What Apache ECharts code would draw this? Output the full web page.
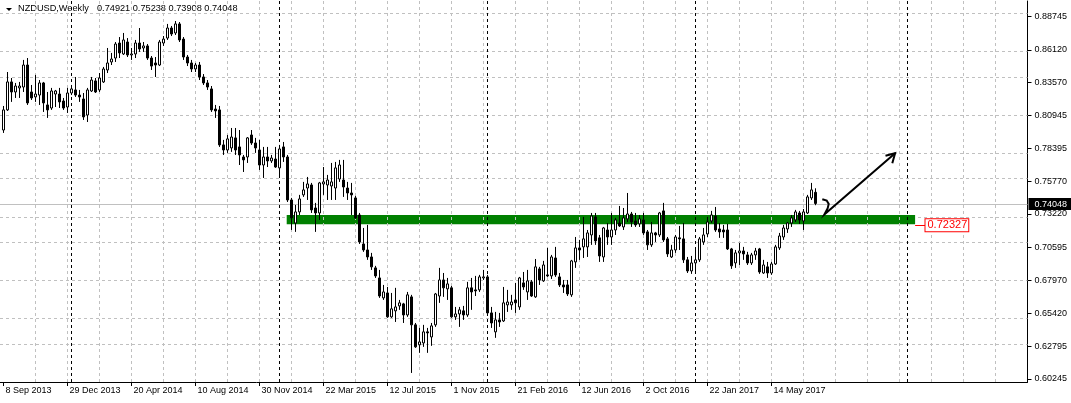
<!DOCTYPE html>
<html><head><meta charset="utf-8">
<script src="https://cdn.jsdelivr.net/npm/echarts@6/dist/echarts.min.js"></script>
<style>html,body{margin:0;padding:0;background:#fff;overflow:hidden}#c{width:1071px;height:403px}</style>
</head><body><div id="c"></div>
<script>
// ---------------- data ----------------
const symbolName = 'NZDUSD,Weekly';
const startDateUTC = Date.UTC(2013, 8, 8); // first weekly bar: 8 Sep 2013
const opens = [0.7982,0.8140,0.8360,0.8281,0.8313,0.8320,0.8493,0.8281,0.8242,0.8257,0.8352,0.8179,0.8155,0.8265,0.8265,0.8210,0.8163,0.8273,0.8297,0.8257,0.8226,0.8100,0.8289,0.8368,0.8297,0.8360,0.8454,0.8517,0.8548,0.8666,0.8580,0.8674,0.8572,0.8580,0.8666,0.8627,0.8643,0.8548,0.8509,0.8493,0.8666,0.8705,0.8784,0.8745,0.8816,0.8697,0.8556,0.8509,0.8462,0.8493,0.8399,0.8352,0.8305,0.8147,0.8140,0.7865,0.7825,0.7841,0.7920,0.7849,0.7770,0.7770,0.7943,0.7880,0.7825,0.7707,0.7770,0.7739,0.7754,0.7684,0.7849,0.7770,0.7432,0.7251,0.7338,0.7472,0.7526,0.7550,0.7369,0.7330,0.7558,0.7550,0.7542,0.7526,0.7597,0.7589,0.7526,0.7487,0.7448,0.7314,0.7086,0.7039,0.6984,0.6898,0.6819,0.6662,0.6701,0.6513,0.6560,0.6599,0.6615,0.6528,0.6670,0.6450,0.6293,0.6308,0.6395,0.6355,0.6450,0.6677,0.6803,0.6733,0.6741,0.6513,0.6536,0.6560,0.6528,0.6741,0.6725,0.6725,0.6819,0.6827,0.6544,0.6395,0.6489,0.6481,0.6607,0.6607,0.6646,0.6591,0.6780,0.6709,0.6788,0.6670,0.6890,0.6796,0.6843,0.6835,0.6976,0.6827,0.6764,0.6764,0.6686,0.6945,0.7055,0.7063,0.7063,0.7157,0.7299,0.7134,0.6984,0.7196,0.7141,0.7196,0.7251,0.7220,0.7283,0.7322,0.7267,0.7244,0.7275,0.7181,0.7079,0.7173,0.7157,0.7346,0.7126,0.6984,0.7039,0.7134,0.7126,0.6961,0.6874,0.6937,0.6961,0.7102,0.7165,0.7267,0.7306,0.7204,0.7196,0.7196,0.7047,0.6937,0.7016,0.7031,0.7000,0.6937,0.7000,0.7047,0.6858,0.6906,0.6858,0.6929,0.7055,0.7141,0.7204,0.7251,0.7275,0.7330,0.7267,0.7330,0.7448,0.74921];
const highs = [0.8171,0.8438,0.8391,0.8352,0.8360,0.8533,0.8548,0.8336,0.8415,0.8375,0.8360,0.8281,0.8313,0.8297,0.8313,0.8234,0.8313,0.8336,0.8399,0.8297,0.8273,0.8313,0.8399,0.8391,0.8430,0.8478,0.8627,0.8588,0.8674,0.8713,0.8745,0.8705,0.8627,0.8690,0.8784,0.8674,0.8658,0.8564,0.8556,0.8690,0.8721,0.8816,0.8800,0.8839,0.8831,0.8713,0.8572,0.8533,0.8509,0.8517,0.8422,0.8375,0.8328,0.8179,0.8171,0.7904,0.7943,0.7998,0.7998,0.7982,0.7786,0.7927,0.7982,0.7920,0.7904,0.7849,0.7849,0.7786,0.7849,0.7865,0.7888,0.7786,0.7448,0.7393,0.7472,0.7574,0.7613,0.7566,0.7409,0.7574,0.7691,0.7629,0.7723,0.7731,0.7747,0.7747,0.7574,0.7566,0.7464,0.7330,0.7212,0.7236,0.7016,0.6914,0.6882,0.6764,0.6748,0.6701,0.6741,0.6646,0.6623,0.6709,0.6686,0.6465,0.6426,0.6450,0.6426,0.6465,0.6701,0.6898,0.6858,0.6819,0.6756,0.6591,0.6591,0.6599,0.6788,0.6819,0.6835,0.6843,0.6882,0.6843,0.6591,0.6552,0.6544,0.6748,0.6725,0.6686,0.6780,0.6827,0.6866,0.6882,0.6803,0.6968,0.6906,0.6953,0.7055,0.7000,0.7063,0.6858,0.6803,0.6803,0.6961,0.7141,0.7118,0.7299,0.7196,0.7330,0.7330,0.7157,0.7220,0.7251,0.7330,0.7291,0.7385,0.7369,0.7487,0.7338,0.7330,0.7314,0.7330,0.7196,0.7259,0.7181,0.7338,0.7409,0.7141,0.7079,0.7157,0.7228,0.7251,0.6984,0.6992,0.7055,0.7141,0.7212,0.7299,0.7346,0.7377,0.7251,0.7236,0.7244,0.7055,0.7039,0.7094,0.7063,0.7024,0.7016,0.7055,0.7055,0.6961,0.6945,0.6945,0.7079,0.7173,0.7236,0.7259,0.7314,0.7354,0.7346,0.7361,0.7472,0.7566,0.75238];
const lows = [0.7959,0.8132,0.8203,0.8234,0.8234,0.8281,0.8179,0.8218,0.8203,0.8179,0.8124,0.8077,0.8140,0.8163,0.8155,0.8140,0.8116,0.8257,0.8242,0.8203,0.8061,0.8045,0.8281,0.8273,0.8281,0.8352,0.8430,0.8493,0.8517,0.8548,0.8572,0.8556,0.8533,0.8548,0.8596,0.8596,0.8533,0.8454,0.8399,0.8485,0.8643,0.8690,0.8721,0.8729,0.8674,0.8533,0.8485,0.8438,0.8438,0.8375,0.8336,0.8297,0.8124,0.8077,0.7849,0.7786,0.7802,0.7810,0.7786,0.7707,0.7652,0.7723,0.7865,0.7802,0.7668,0.7605,0.7691,0.7723,0.7684,0.7605,0.7731,0.7416,0.7196,0.7181,0.7314,0.7456,0.7432,0.7330,0.7181,0.7275,0.7472,0.7432,0.7432,0.7432,0.7574,0.7456,0.7432,0.7314,0.7283,0.7086,0.7024,0.6961,0.6882,0.6819,0.6662,0.6646,0.6505,0.6505,0.6473,0.6568,0.6465,0.6513,0.6072,0.6269,0.6230,0.6277,0.6230,0.6285,0.6434,0.6623,0.6670,0.6646,0.6505,0.6489,0.6434,0.6489,0.6513,0.6568,0.6677,0.6709,0.6803,0.6536,0.6426,0.6348,0.6434,0.6473,0.6552,0.6568,0.6544,0.6568,0.6725,0.6646,0.6670,0.6662,0.6764,0.6788,0.6827,0.6811,0.6827,0.6748,0.6701,0.6677,0.6670,0.6898,0.6961,0.6976,0.6984,0.7079,0.7079,0.6945,0.6945,0.7079,0.7079,0.7157,0.7220,0.7196,0.7259,0.7220,0.7220,0.7220,0.7157,0.7039,0.7063,0.7102,0.7141,0.7102,0.6984,0.6976,0.7016,0.7039,0.6937,0.6858,0.6851,0.6858,0.6945,0.7079,0.7141,0.7251,0.7181,0.7134,0.7134,0.7039,0.6890,0.6898,0.6921,0.6961,0.6921,0.6921,0.6961,0.6851,0.6851,0.6819,0.6843,0.6921,0.7039,0.7118,0.7173,0.7220,0.7259,0.7244,0.7196,0.7322,0.7432,0.73908];
const closes = [0.8140,0.8360,0.8281,0.8328,0.8328,0.8493,0.8195,0.8234,0.8265,0.8352,0.8195,0.8140,0.8289,0.8289,0.8203,0.8155,0.8273,0.8305,0.8257,0.8242,0.8085,0.8297,0.8375,0.8281,0.8391,0.8462,0.8509,0.8540,0.8658,0.8588,0.8690,0.8572,0.8580,0.8666,0.8619,0.8643,0.8548,0.8485,0.8493,0.8674,0.8697,0.8784,0.8737,0.8816,0.8690,0.8556,0.8509,0.8462,0.8493,0.8399,0.8352,0.8320,0.8140,0.8132,0.7865,0.7825,0.7912,0.7927,0.7825,0.7786,0.7747,0.7920,0.7880,0.7841,0.7707,0.7770,0.7739,0.7762,0.7691,0.7833,0.7770,0.7432,0.7291,0.7338,0.7440,0.7511,0.7558,0.7354,0.7330,0.7566,0.7574,0.7589,0.7574,0.7684,0.7707,0.7534,0.7487,0.7472,0.7291,0.7102,0.7039,0.6984,0.6906,0.6835,0.6677,0.6709,0.6513,0.6576,0.6591,0.6623,0.6528,0.6686,0.6450,0.6277,0.6316,0.6395,0.6387,0.6442,0.6693,0.6803,0.6741,0.6772,0.6513,0.6536,0.6568,0.6528,0.6741,0.6709,0.6717,0.6827,0.6827,0.6544,0.6465,0.6489,0.6473,0.6623,0.6630,0.6630,0.6623,0.6819,0.6748,0.6796,0.6677,0.6906,0.6803,0.6921,0.6835,0.6984,0.6843,0.6764,0.6748,0.6693,0.6953,0.7055,0.7039,0.7126,0.7173,0.7306,0.7110,0.6992,0.7212,0.7141,0.7196,0.7275,0.7228,0.7291,0.7322,0.7259,0.7236,0.7283,0.7173,0.7079,0.7173,0.7157,0.7330,0.7118,0.7008,0.7039,0.7141,0.7126,0.6961,0.6874,0.6937,0.6961,0.7126,0.7157,0.7259,0.7314,0.7196,0.7181,0.7181,0.7047,0.6914,0.7016,0.7031,0.7008,0.6937,0.7000,0.7031,0.6866,0.6921,0.6858,0.6929,0.7063,0.7149,0.7212,0.7251,0.7291,0.7338,0.7275,0.7338,0.7456,0.7511,0.74048];

const priceTicks = [0.88745,0.86120,0.83570,0.80945,0.78395,0.75770,0.73220,0.70595,0.67970,0.65420,0.62795,0.60245];
const dateTickLabels = ['8 Sep 2013','29 Dec 2013','20 Apr 2014','10 Aug 2014','30 Nov 2014','22 Mar 2015','12 Jul 2015','1 Nov 2015','21 Feb 2016','12 Jun 2016','2 Oct 2016','22 Jan 2017','14 May 2017'];
const barsPerDateTick = 16;
const barsPerGridLine = 8;

// support zone rectangle (bar index, price)
const zone = { fromBar: 70.8, toBar: 227.9, low: 0.7241, high: 0.7314 };
const zoneLabelPrice = 0.72327;
const zoneLabelEndBar = 230.5;
// hand-drawn arrow (bar index, price)
const arrowPath = [[204.7,0.7438],[205.8,0.7427],[206.3,0.7401],[206.05,0.7367],[205.45,0.7332],[205.2,0.7317],[222.9,0.7799]];
const arrowHead = [[220.5,0.7779],[222.9,0.7799],[222.2,0.7721]];

// visible axis range
const xRange = [-0.875, 256.0];
const yRange = [0.60008, 0.89963];

// ---------------- build ----------------
const n = closes.length;
const candleData = closes.map((c, i) => [i, opens[i], c, lows[i], highs[i]]);
const lastIdx = n - 1;
const currentPrice = closes[lastIdx];
const DAY = 86400000;
const yearOf = i => new Date(startDateUTC + i * 7 * DAY).getUTCFullYear();
const yearSeparators = [];
for (let i = 1; i <= Math.floor(xRange[1]); i++) if (yearOf(i) !== yearOf(i - 1)) yearSeparators.push(i);
const dateTickBars = dateTickLabels.map((_, k) => k * barsPerDateTick);
const gridBars = [];
for (let b = barsPerGridLine; b < xRange[1] - 1; b += barsPerGridLine) gridBars.push(b);

const font = "'Liberation Sans', Arial, sans-serif";
const fs = 9;
const gray = '#c0c0c0';
const dashed = [3, 3];

// horizontal grid (below the zone)
const hLines = priceTicks.map(v => ({ yAxis: v, lineStyle: { color: gray, type: dashed, width: 1 } }));
// vertical grid, separators, price lines (above the zone, below candles)
const vLines = [];
gridBars.forEach(b => vLines.push({ xAxis: b, lineStyle: { color: gray, type: dashed, width: 1 } }));
yearSeparators.forEach(b => vLines.push({ xAxis: b, lineStyle: { color: '#000', type: dashed, width: 1 } }));
vLines.push({ yAxis: currentPrice, lineStyle: { color: gray, type: 'solid', width: 1 },
  label: { show: true, position: 'end', distance: 1, formatter: currentPrice.toFixed(5), color: '#fff', backgroundColor: '#000',
           padding: [2, 4, 1, 6], fontSize: fs, fontFamily: font } });
const redLabel = { show: true, position: 'end', distance: 0, formatter: zoneLabelPrice.toFixed(5), color: '#ff0000',
  backgroundColor: '#fff', borderColor: '#ff0000', borderWidth: 1, padding: [1, 1, 0, 2], fontSize: 11, fontFamily: font };
vLines.push([
  { coord: [zone.toBar, zoneLabelPrice], lineStyle: { color: '#ff0000', type: 'solid', width: 1 }, label: redLabel },
  { coord: [zoneLabelEndBar, zoneLabelPrice], lineStyle: { color: '#ff0000', type: 'solid', width: 1 }, label: redLabel }
]);

const ohlcText = [opens[lastIdx], highs[lastIdx], lows[lastIdx], closes[lastIdx]].map(v => v.toFixed(5)).join(' ');

const chart = echarts.init(document.getElementById('c'), null, { renderer: 'canvas', width: 1071, height: 403 });
chart.setOption({
  animation: false,
  backgroundColor: '#ffffff',
  grid: { left: 0, right: 43.5, top: 1, bottom: 21, containLabel: false },
  xAxis: {
    type: 'value', min: xRange[0], max: xRange[1], position: 'bottom',
    splitLine: { show: false },
    axisLine: { show: true, onZero: false, lineStyle: { color: '#000', width: 1 } },
    axisTick: { show: true, customValues: dateTickBars, length: 4, inside: false, lineStyle: { color: '#000' } },
    axisLabel: { show: true, customValues: dateTickBars, formatter: v => dateTickLabels[Math.round(v / barsPerDateTick)],
      align: 'left', margin: 4, padding: [0, 0, 0, 2], color: '#000', fontSize: fs, fontFamily: font, hideOverlap: false }
  },
  yAxis: {
    type: 'value', min: yRange[0], max: yRange[1], position: 'right', scale: true,
    splitLine: { show: false },
    axisLine: { show: true, onZero: false, lineStyle: { color: '#000', width: 1 } },
    axisTick: { show: true, customValues: priceTicks, length: 4, lineStyle: { color: '#000' } },
    axisLabel: { show: true, customValues: priceTicks, formatter: v => v.toFixed(5), margin: 7,
      color: '#000', fontSize: fs, fontFamily: font, hideOverlap: false }
  },
  graphic: [
    { type: 'polygon', shape: { points: [[6, 8], [12, 8], [9, 11]] }, style: { fill: '#000' }, silent: true },
    { type: 'text', left: 18, top: 4, style: { text: symbolName, fill: '#000', font: '9.2px ' + font }, silent: true },
    { type: 'text', left: 97, top: 4, style: { text: ohlcText, fill: '#000', font: '9.2px ' + font }, silent: true }
  ],
  series: [
    {
      type: 'line', data: [], silent: true, z: 1,
      markLine: { silent: true, z: 1, symbol: ['none', 'none'], label: { show: false }, animation: false, data: hLines },
      markArea: { silent: true, z: 2, label: { show: false }, itemStyle: { color: '#008000', opacity: 1 },
        data: [[{ coord: [zone.fromBar, zone.high] }, { coord: [zone.toBar, zone.low] }]] }
    },
    {
      type: 'line', data: [], silent: true, z: 3,
      markLine: { silent: true, z: 3, symbol: ['none', 'none'], label: { show: false }, animation: false, data: vLines }
    },
    {
      type: 'candlestick', data: candleData, z: 4, barWidth: 2, silent: true,
      itemStyle: { color: '#ffffff', color0: '#000000', borderColor: '#000000', borderColor0: '#000000', borderWidth: 1 }
    },
    {
      type: 'lines', coordinateSystem: 'cartesian2d', polyline: true, z: 5, silent: true,
      lineStyle: { color: '#000', width: 2, opacity: 1 },
      data: [{ coords: arrowPath }, { coords: arrowHead }]
    }
  ]
});
</script></body></html>
